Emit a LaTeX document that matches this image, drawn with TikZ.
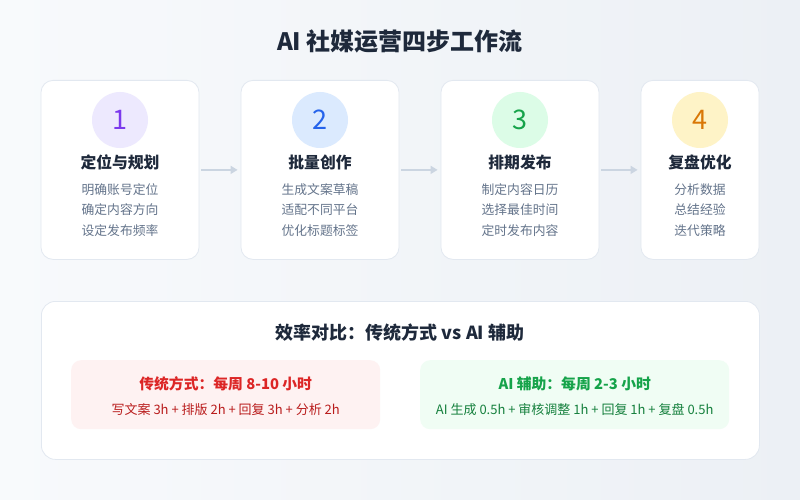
\documentclass[tikz,border=0pt]{standalone}
\usepackage{fontspec}
\setmainfont{Noto Sans CJK SC}
\usetikzlibrary{arrows.meta}
\definecolor{bgA}{HTML}{F8FAFC}
\definecolor{bgB}{HTML}{ECF0F5}
\definecolor{cardborder}{HTML}{E2E8F0}
\definecolor{titlec}{HTML}{1E293B}
\definecolor{descc}{HTML}{64748B}
\definecolor{arrowc}{HTML}{CBD5E1}
\definecolor{pfill}{HTML}{EDE9FE}\definecolor{ptext}{HTML}{7C3AED}
\definecolor{bfill}{HTML}{DBEAFE}\definecolor{btext}{HTML}{2563EB}
\definecolor{gfill}{HTML}{DCFCE7}\definecolor{gtext}{HTML}{16A34A}
\definecolor{yfill}{HTML}{FEF3C7}\definecolor{ytext}{HTML}{D97706}
\definecolor{redfill}{HTML}{FEF2F2}\definecolor{redtext}{HTML}{DC2626}\definecolor{redsub}{HTML}{B91C1C}
\definecolor{grnfill}{HTML}{F0FDF4}\definecolor{grntext}{HTML}{16A34A}\definecolor{grnsub}{HTML}{15803D}
\tikzset{
  card/.style={draw=cardborder, line width=0.8pt, fill=white, rounded corners=12pt, minimum height=179pt, anchor=north, inner sep=0pt},
  numcirc/.style={circle, minimum size=56pt, inner sep=0pt, font=\fontsize{27}{27}\selectfont},
  steptitle/.style={font=\bfseries\fontsize{15.8}{15.8}\selectfont, text=titlec},
  stepdesc/.style={font=\fontsize{12.8}{20.5}\selectfont, text=descc, align=center},
  flowarrow/.style={draw=arrowc, line width=1.5pt, -{Triangle[length=7pt,width=8pt]}},
  panel/.style={draw=cardborder, line width=0.8pt, fill=white, rounded corners=14pt, minimum width=718pt, minimum height=158pt, anchor=north west, inner sep=0pt},
  cmpbox/.style={rounded corners=10pt, minimum width=309pt, minimum height=69pt, anchor=north west, inner sep=0pt},
}
\begin{document}
\begin{tikzpicture}[x=1pt,y=-1pt]
\shade[left color=bgA, right color=bgB] (0,0) rectangle (800,500);
\useasboundingbox (0,0) rectangle (800,500);
\node[font=\bfseries\fontsize{24}{24}\selectfont, text=titlec] (title) at (400,41) {AI 社媒运营四步工作流};

\foreach \i/\x/\w/\fc/\tc/\ttl/\da/\db/\dc in {
  1/120/158/pfill/ptext/定位与规划/明确账号定位/确定内容方向/设定发布频率,
  2/320/158/bfill/btext/批量创作/生成文案草稿/适配不同平台/优化标题标签,
  3/520/158/gfill/gtext/排期发布/制定内容日历/选择最佳时间/定时发布内容,
  4/700/118/yfill/ytext/复盘优化/分析数据/总结经验/迭代策略}{
  \node[card, minimum width=\w pt] (card\i) at (\x,80) {};
  \node[numcirc, fill=\fc, text=\tc] (num\i) at (\x,120) {\i};
  \node[steptitle] (ttl\i) at (\x,162) {\ttl};
  \node[stepdesc] (desc\i) at (\x,210) {\da\\\db\\\dc};
}
\foreach \a/\b in {1/2,2/3,3/4}{
  \draw[flowarrow] ([xshift=2pt]card\a.east) -- ([xshift=-3pt]card\b.west);
}

\node[panel] (panel) at (41,301) {};
\node[font=\bfseries\fontsize{18}{18}\selectfont, text=titlec] (cmptitle) at (400,333) {效率对比：传统方式 vs AI 辅助};
\node[cmpbox, fill=redfill] (redbox) at (71,360) {};
\node[cmpbox, fill=grnfill] (grnbox) at (420,360) {};
\node[font=\bfseries\fontsize{14.8}{14.8}\selectfont, text=redtext] (redttl) at (redbox.center |- 0,384) {传统方式：每周 8-10 小时};
\node[font=\fontsize{13}{13}\selectfont, text=redsub] (redsub) at (redbox.center |- 0,410) {写文案 3h + 排版 2h + 回复 3h + 分析 2h};
\node[font=\bfseries\fontsize{14.8}{14.8}\selectfont, text=grntext] (grnttl) at (grnbox.center |- 0,384) {AI 辅助：每周 2-3 小时};
\node[font=\fontsize{13}{13}\selectfont, text=grnsub] (grnsub) at (grnbox.center |- 0,410) {AI 生成 0.5h + 审核调整 1h + 回复 1h + 复盘 0.5h};
\end{tikzpicture}
\end{document}
